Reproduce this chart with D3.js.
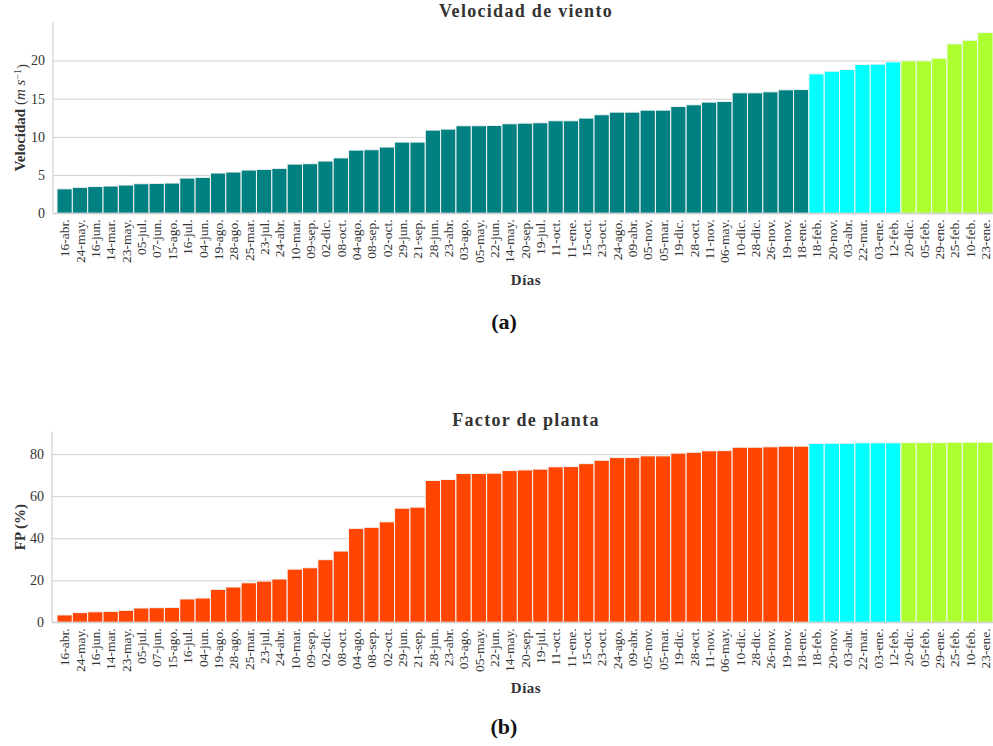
<!DOCTYPE html>
<html>
<head>
<meta charset="utf-8">
<script src="https://cdn.jsdelivr.net/npm/d3@7"></script>
<style>
  body { margin: 0; background: #fff; }
  svg text { font-family: "Liberation Serif", "DejaVu Serif", serif !important; fill: #333; }
  .grid line { stroke: #d0d0d0; stroke-width: 1; }
  .grid path { display: none; }
  .xax path { display: none; }
  .xax line { display: none; }
</style>
</head>
<body>
<div class="chart"></div>
<script>
// days (sorted by wind speed)
var dias = ["16-abr.", "24-may.", "16-jun.", "14-mar.", "23-may.", "05-jul.", "07-jun.", "15-ago.",
  "16-jul.", "04-jun.", "19-ago.", "28-ago.", "25-mar.", "23-jul.", "24-abr.", "10-mar.", "09-sep.",
  "02-dic.", "08-oct.", "04-ago.", "08-sep.", "02-oct.", "29-jun.", "21-sep.", "28-jun.", "23-abr.",
  "03-ago.", "05-may.", "22-jun.", "14-may.", "20-sep.", "19-jul.", "11-oct.", "11-ene.", "15-oct.",
  "23-oct.", "24-ago.", "09-abr.", "05-nov.", "05-mar.", "19-dic.", "28-oct.", "11-nov.", "06-may.",
  "10-dic.", "28-dic.", "26-nov.", "19-nov.", "18-ene.", "18-feb.", "20-nov.", "03-abr.", "22-mar.",
  "03-ene.", "12-feb.", "20-dic.", "05-feb.", "29-ene.", "25-feb.", "10-feb.", "23-ene."];

// wind speed (m/s)
var velocidad = [3.2, 3.4, 3.5, 3.57, 3.7, 3.87, 3.92, 3.96, 4.61, 4.7, 5.27, 5.4, 5.66, 5.75, 5.88,
  6.44, 6.49, 6.84, 7.25, 8.27, 8.32, 8.67, 9.32, 9.32, 10.89, 11.02, 11.46, 11.46, 11.5, 11.72, 11.8,
  11.85, 12.11, 12.11, 12.46, 12.9, 13.24, 13.24, 13.5, 13.5, 13.98, 14.2, 14.55, 14.64, 15.77, 15.77,
  15.9, 16.16, 16.2, 18.25, 18.6, 18.82, 19.47, 19.52, 19.82, 19.95, 19.95, 20.3, 22.17, 22.65, 23.66];

// plant factor (%)
var fp = [3.5, 4.6, 5.0, 5.2, 5.7, 6.8, 6.95, 7.1, 11.1, 11.55, 15.7, 16.8, 18.8, 19.6, 20.6, 25.3,
  25.95, 29.8, 33.9, 44.7, 45.2, 47.8, 54.3, 54.8, 67.5, 67.95, 70.8, 70.8, 70.96, 72.2, 72.5, 72.9,
  73.97, 74.1, 75.5, 77.1, 78.4, 78.4, 79.2, 79.2, 80.5, 80.9, 81.6, 81.7, 83.3, 83.3, 83.5, 83.8, 83.8,
  85.1, 85.2, 85.2, 85.4, 85.4, 85.4, 85.5, 85.5, 85.5, 85.7, 85.7, 85.7];

// group of each day: 0 = normal, 1 = cyan group, 2 = green group
var grupo = dias.map(function (d, i) { return i < 49 ? 0 : (i < 55 ? 1 : 2); });

var ticksVel = [0, 5, 10, 15, 20];
var ticksFp = [0, 20, 40, 60, 80];

var svg = d3.select(".chart").append("svg")
  .attr("width", 993)
  .attr("height", 746);

var x = d3.scaleBand()
  .domain(d3.range(dias.length))
  .range([57, 993])
  .padding(0);

var serif = '"Liberation Serif", "DejaVu Serif", serif';

function drawPanel(opts) {
  var y = d3.scaleLinear().domain([0, opts.yMax]).range([opts.y0, opts.yTop]);
  var g = svg.append("g");

  // gridlines + y tick labels
  g.append("g")
    .attr("class", "grid")
    .attr("font-family", serif)
    .attr("transform", "translate(" + opts.left + ",0)")
    .call(d3.axisLeft(y).tickValues(opts.ticks).tickSizeInner(-(993 - opts.left)).tickSizeOuter(0).tickPadding(8))
    .call(function (s) {
      s.selectAll("text").style("font-size", "14px").style("font-family", serif).style("fill", "#333");
    });

  // left spine
  g.append("line")
    .attr("x1", opts.left).attr("x2", opts.left)
    .attr("y1", opts.yTop).attr("y2", opts.y0)
    .attr("stroke", "#d0d0d0").attr("stroke-width", 1.2);

  g.selectAll("rect.bar")
    .data(opts.values)
    .enter().append("rect")
    .attr("class", "bar")
    .attr("x", function (d, i) { return x(i); })
    .attr("width", x.bandwidth())
    .attr("y", function (d) { return y(d); })
    .attr("height", function (d) { return y(0) - y(d); })
    .attr("fill", function (d, i) { return opts.colors[grupo[i]]; })
    .attr("stroke", "#f4f4f4")
    .attr("stroke-width", 1);

  // bottom spine
  g.append("line")
    .attr("x1", opts.left).attr("x2", 993)
    .attr("y1", opts.y0).attr("y2", opts.y0)
    .attr("stroke", "#d0d0d0").attr("stroke-width", 1.2);

  // x axis with rotated labels
  g.append("g")
    .attr("class", "xax")
    .attr("font-family", serif)
    .attr("transform", "translate(0," + opts.y0 + ")")
    .call(d3.axisBottom(x).tickSize(0).tickFormat(function (i) { return dias[i]; }))
    .selectAll("text")
    .attr("transform", "rotate(-90)")
    .attr("x", -6)
    .attr("y", 0)
    .attr("dy", "0.35em")
    .style("text-anchor", "end")
    .style("font-family", serif)
    .style("font-size", "13.5px")
    .style("fill", "#333");

  // title
  g.append("text")
    .attr("x", 526)
    .attr("y", opts.titleY)
    .attr("text-anchor", "middle")
    .style("font-size", "18px")
    .style("font-weight", "bold")
    .style("letter-spacing", "1.3px")
    .text(opts.title);

  // x label
  g.append("text")
    .attr("x", 526)
    .attr("y", opts.xlabY)
    .attr("text-anchor", "middle")
    .style("font-size", "15px")
    .style("font-weight", "bold")
    .style("letter-spacing", "0.5px")
    .text("Días");

  // y label
  var yl = g.append("text")
    .attr("transform", "translate(" + 25 + "," + ((opts.y0 + opts.yTop) / 2) + ") rotate(-90)")
    .attr("text-anchor", "middle")
    .style("font-size", "15px");
  opts.ylabel(yl);

  // sub-figure letter
  g.append("text")
    .attr("x", 504)
    .attr("y", opts.letterY)
    .attr("text-anchor", "middle")
    .style("font-size", "22px")
    .style("font-weight", "bold")
    .style("fill", "#111")
    .text(opts.letter);
}

drawPanel({
  values: velocidad,
  colors: ["#008080", "#00ffff", "#adff2f"],
  yMax: 25, y0: 213.3, yTop: 22.3, left: 53,
  ticks: ticksVel,
  title: "Velocidad de viento", titleY: 17,
  xlabY: 285, letterY: 329, letter: "(a)",
  ylabel: function (t) {
    t.append("tspan").style("font-weight", "bold").text("Velocidad ");
    t.append("tspan").text("(");
    t.append("tspan").style("font-style", "italic").text("m s");
    t.append("tspan").attr("dy", "-0.45em").style("font-size", "10px").text("−1");
    t.append("tspan").attr("dy", "0.45em").text(")");
  }
});

drawPanel({
  values: fp,
  colors: ["#ff4500", "#00ffff", "#adff2f"],
  yMax: 90.7, y0: 622.3, yTop: 431.7, left: 52,
  ticks: ticksFp,
  title: "Factor de planta", titleY: 426,
  xlabY: 693, letterY: 734, letter: "(b)",
  ylabel: function (t) {
    t.style("font-weight", "bold").text("FP (%)");
  }
});
</script>
</body>
</html>
